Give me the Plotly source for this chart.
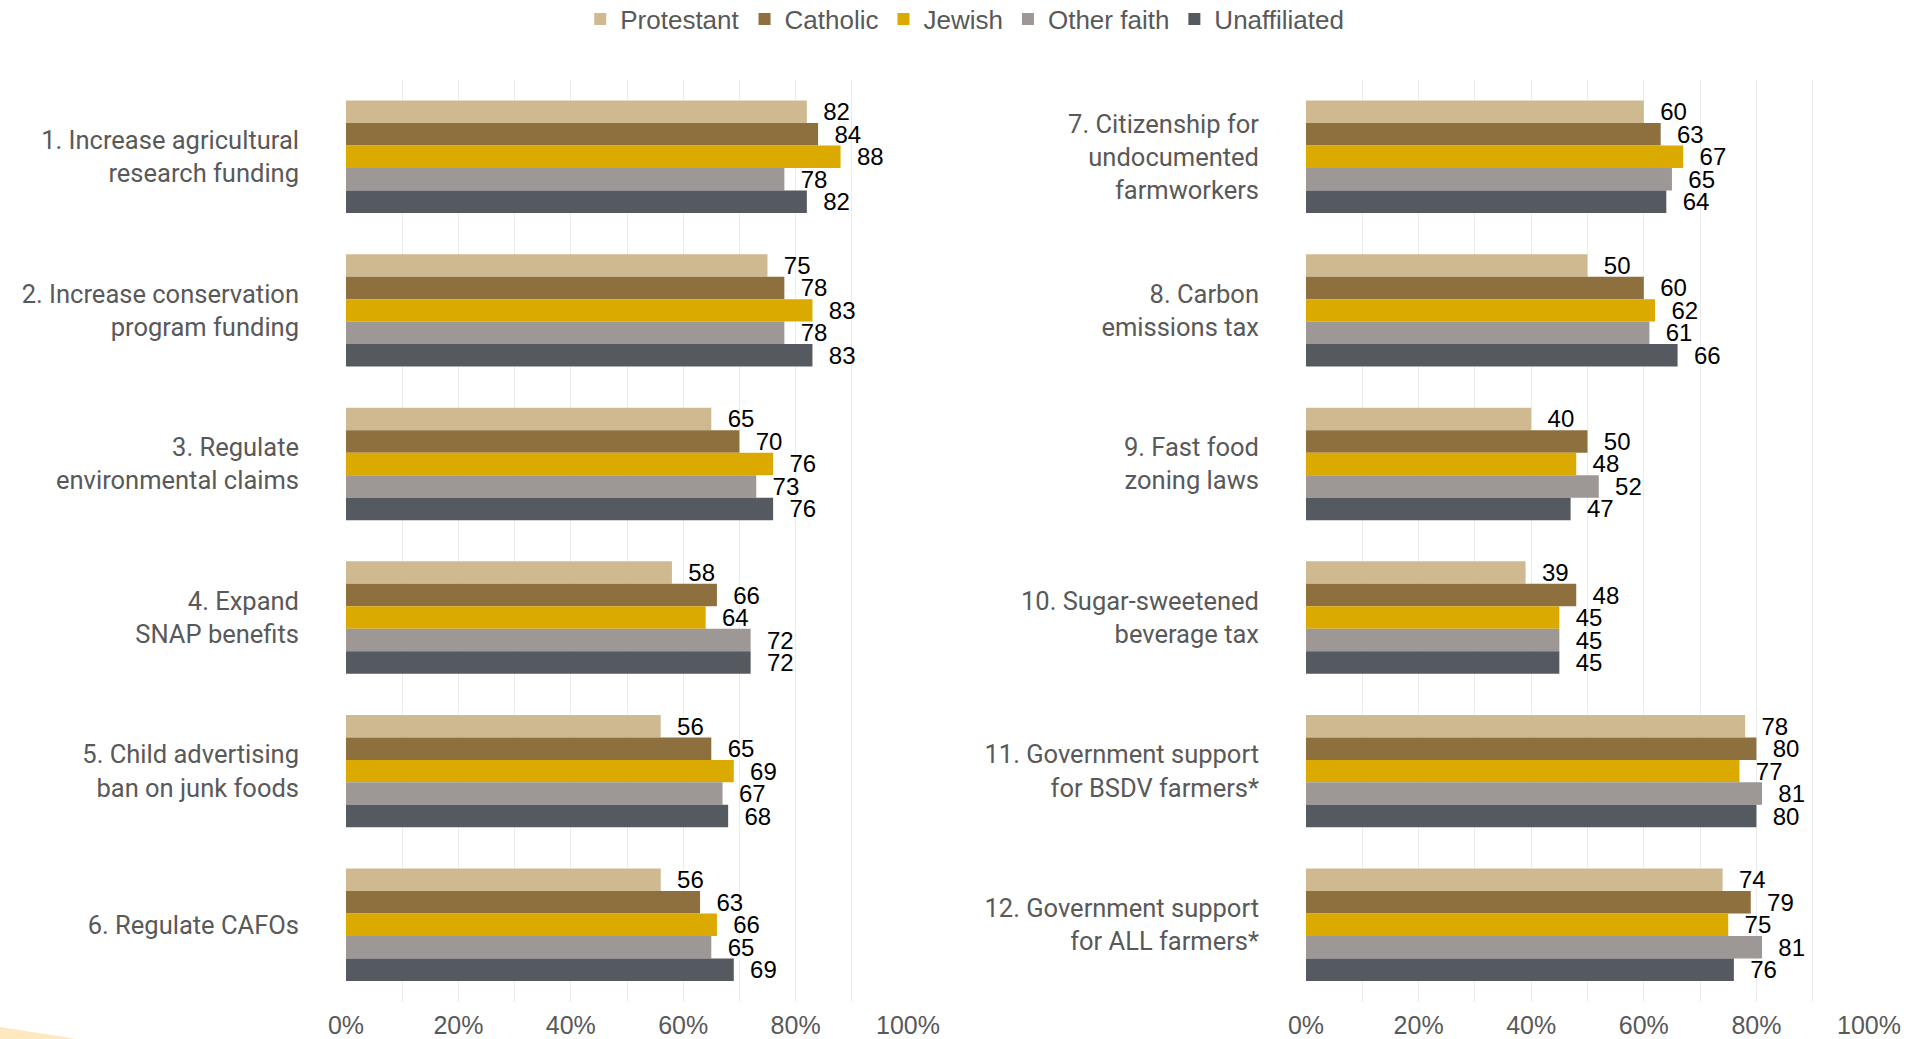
import plotly.graph_objects as go

# Survey support (%) for food & agriculture policies, by religious affiliation
groups = ["Protestant", "Catholic", "Jewish", "Other faith", "Unaffiliated"]
colors = ["#cfb991", "#8e6f3e", "#daaa00", "#9d9795", "#555960"]

left_policies = [
    "1. Increase agricultural<br>research funding",
    "2. Increase conservation<br>program funding",
    "3. Regulate<br>environmental claims",
    "4. Expand<br>SNAP benefits",
    "5. Child advertising<br>ban on junk foods",
    "6. Regulate CAFOs",
]
right_policies = [
    "7. Citizenship for<br>undocumented<br>farmworkers",
    "8. Carbon<br>emissions tax",
    "9. Fast food<br>zoning laws",
    "10. Sugar-sweetened<br>beverage tax",
    "11. Government support<br>for BSDV farmers*",
    "12. Government support<br>for ALL farmers*",
]

# values per group, in policy order
left_values = {
    "Protestant":   [82, 75, 65, 58, 56, 56],
    "Catholic":     [84, 78, 70, 66, 65, 63],
    "Jewish":       [88, 83, 76, 64, 69, 66],
    "Other faith":  [78, 78, 73, 72, 67, 65],
    "Unaffiliated": [82, 83, 76, 72, 68, 69],
}
right_values = {
    "Protestant":   [60, 50, 40, 39, 78, 74],
    "Catholic":     [63, 60, 50, 48, 80, 79],
    "Jewish":       [67, 62, 48, 45, 77, 75],
    "Other faith":  [65, 61, 52, 45, 81, 81],
    "Unaffiliated": [64, 66, 47, 45, 80, 76],
}

x_ticks = [0, 20, 40, 60, 80, 100]
x_tick_labels = ["0%", "20%", "40%", "60%", "80%", "100%"]

W, H = 1918, 1039
GRAY = "#595959"
GRID = "#ececec"
LABEL_FONT = dict(family="Liberation Sans, Arial, sans-serif", size=24, color="#000000")

fig = go.Figure()

for g, c in zip(groups, colors):
    fig.add_trace(go.Bar(
        y=left_policies, x=left_values[g], name=g, orientation="h",
        marker=dict(color=c, line=dict(width=0)),
        text=left_values[g], texttemplate="\u00a0\u00a0%{text}",
        textposition="outside", constraintext="none", cliponaxis=False,
        textfont=LABEL_FONT,
        xaxis="x", yaxis="y", legendgroup=g, showlegend=True,
    ))
for g, c in zip(groups, colors):
    fig.add_trace(go.Bar(
        y=right_policies, x=right_values[g], name=g, orientation="h",
        marker=dict(color=c, line=dict(width=0)),
        text=right_values[g], texttemplate="\u00a0\u00a0%{text}",
        textposition="outside", constraintext="none", cliponaxis=False,
        textfont=LABEL_FONT,
        xaxis="x2", yaxis="y2", legendgroup=g, showlegend=False,
    ))

y_dom = [1 - 1001.5 / H, 1 - 80 / H]

xaxis_common = dict(
    range=[0, 100], tickvals=x_ticks, ticktext=x_tick_labels,
    showgrid=True, gridcolor=GRID, gridwidth=1, zeroline=False,
    showline=False, ticks="", ticklabelstandoff=6, automargin=False, fixedrange=True,
    tickfont=dict(family="Liberation Sans, Arial, sans-serif", size=25, color=GRAY),
    minor=dict(dtick=10, showgrid=True, gridcolor=GRID, gridwidth=1),
)
yaxis_common = dict(
    autorange="reversed", showgrid=False, zeroline=False, showline=False,
    ticks="", ticklabelstandoff=46, automargin=False, fixedrange=True,
    tickfont=dict(family="Roboto, sans-serif", size=25.5, color=GRAY),
)

fig.update_layout(
    width=W, height=H,
    margin=dict(l=0, r=0, t=0, b=0, autoexpand=False),
    paper_bgcolor="white", plot_bgcolor="white",
    barmode="group", bargap=0.268, bargroupgap=0,
    xaxis=dict(domain=[346 / W, 908 / W], anchor="y", **xaxis_common),
    yaxis=dict(domain=y_dom, anchor="x", **yaxis_common),
    xaxis2=dict(domain=[1306 / W, 1869 / W], anchor="y2", **xaxis_common),
    yaxis2=dict(domain=y_dom, anchor="x2", **yaxis_common),
    legend=dict(
        orientation="h", x=0.503, xanchor="center", y=1 - 19 / H, yanchor="middle",
        font=dict(family="Liberation Sans, Arial, sans-serif", size=26, color=GRAY),
        itemwidth=30, traceorder="normal", bgcolor="rgba(0,0,0,0)",
    ),
    showlegend=True,
    shapes=[dict(
        type="path", xref="paper", yref="paper",
        path=f"M 0 {1 - 1027 / H} L {77 / W} 0 L 0 0 Z",
        fillcolor="#fde8bf", line=dict(width=0), layer="below",
    )],
)

fig.write_html("out.html")
